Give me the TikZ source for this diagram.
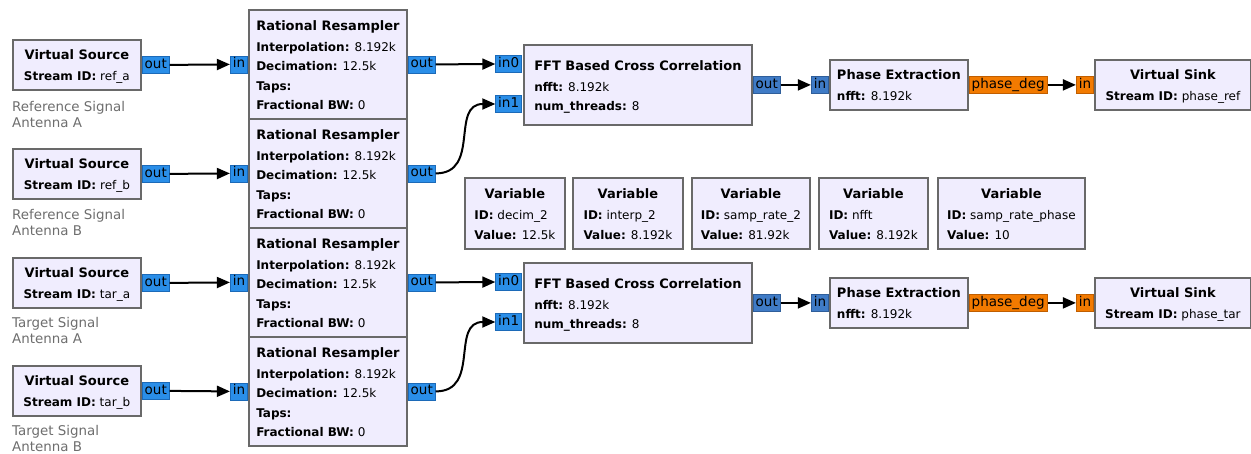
\documentclass[tikz,border=0pt]{standalone}
\usepackage{fontspec}
\setmainfont{DejaVu Sans}
\usetikzlibrary{arrows.meta}
\definecolor{blockfill}{RGB}{240,237,254}
\definecolor{blockline}{RGB}{105,105,105}
\definecolor{portblue}{HTML}{2A8EE8}
\definecolor{portblueline}{HTML}{1C6AB8}
\definecolor{portdark}{HTML}{3F7BC6}
\definecolor{portdarkline}{HTML}{2F5E9A}
\definecolor{portorange}{HTML}{F27A00}
\definecolor{portorangeline}{HTML}{C05E00}
\definecolor{commentgrey}{HTML}{6E6E6E}
\newcommand\blktext[2]{\begin{tabular}{@{}l@{}}\multicolumn{1}{@{}c@{}}{\rule{0pt}{16.7pt}\fontsize{13}{19.3}\selectfont\bfseries #1}\\[1.7pt]#2\end{tabular}}
\newcommand\pk[1]{\textbf{#1}}
\tikzset{
  blk/.style={draw=blockline, line width=1.8pt, fill=blockfill, rectangle, inner sep=0pt, anchor=north west, font=\fontsize{12}{19.3}\selectfont},
  portbase/.style={rectangle, line width=0.8pt, inner xsep=2.5pt, inner ysep=0pt, minimum height=17pt, text height=10pt, text depth=3pt, font=\fontsize{13.5}{13.5}\selectfont},
  pblue/.style={portbase, draw=portblueline, fill=portblue},
  pdark/.style={portbase, draw=portdarkline, fill=portdark},
  porange/.style={portbase, draw=portorangeline, fill=portorange},
  conn/.style={line width=2pt, -{Triangle[length=13pt,width=11pt]}},
  cmt/.style={anchor=base west, align=left, text=commentgrey, inner sep=0pt, font=\fontsize{13.4}{16}\selectfont}
}
\begin{document}
\begin{tikzpicture}[x=1pt,y=-1pt]
\useasboundingbox[fill=white] (0,0) rectangle (1251,453);

% Virtual sources
\node[blk, minimum width=128, minimum height=50] (srcA) at (12,39) {\blktext{Virtual Source}{\pk{Stream ID:} ref\_a}};
\node[blk, minimum width=128, minimum height=50] (srcB) at (12,148) {\blktext{Virtual Source}{\pk{Stream ID:} ref\_b}};
\node[blk, minimum width=128, minimum height=50] (srcC) at (12,257) {\blktext{Virtual Source}{\pk{Stream ID:} tar\_a}};
\node[blk, minimum width=128, minimum height=50] (srcD) at (12,365) {\blktext{Virtual Source}{\pk{Stream ID:} tar\_b}};

% Comments (anchor = baseline of last line)
\node[cmt] (cmA) at (12,127) {Reference Signal\\Antenna A};
\node[cmt] (cmB) at (12,235) {Reference Signal\\Antenna B};
\node[cmt] (cmC) at (12,343) {Target Signal\\Antenna A};
\node[cmt] (cmD) at (12,451) {Target Signal\\Antenna B};

% Rational resamplers
\foreach \n/\y in {resA/9,resB/118,resC/227,resD/336}{
  \node[blk, minimum width=158, minimum height=109] (\n) at (248,\y) {\blktext{Rational Resampler}{\pk{Interpolation:} 8.192k\\\pk{Decimation:} 12.5k\\\pk{Taps:}\\\pk{Fractional BW:} 0}};
}

% FFT blocks
\node[blk, minimum width=228, minimum height=80] (fftA) at (523,44) {\blktext{FFT Based Cross Correlation}{\pk{nfft:} 8.192k\\\pk{num\_threads:} 8}};
\node[blk, minimum width=228, minimum height=80] (fftB) at (523,262) {\blktext{FFT Based Cross Correlation}{\pk{nfft:} 8.192k\\\pk{num\_threads:} 8}};

% Phase extraction
\node[blk, minimum width=138, minimum height=50] (phA) at (829,59) {\blktext{Phase Extraction}{\pk{nfft:} 8.192k}};
\node[blk, minimum width=138, minimum height=50] (phB) at (829,277) {\blktext{Phase Extraction}{\pk{nfft:} 8.192k}};

% Virtual sinks
\node[blk, minimum width=156, minimum height=50] (snkA) at (1094,59) {\blktext{Virtual Sink}{\pk{Stream ID:} phase\_ref}};
\node[blk, minimum width=156, minimum height=50] (snkB) at (1094,277) {\blktext{Virtual Sink}{\pk{Stream ID:} phase\_tar}};

% Variables
\node[blk, minimum width=100, minimum height=71] (v1) at (464,177) {\blktext{Variable}{\pk{ID:} decim\_2\\\pk{Value:} 12.5k}};
\node[blk, minimum width=110, minimum height=71] (v2) at (572,177) {\blktext{Variable}{\pk{ID:} interp\_2\\\pk{Value:} 8.192k}};
\node[blk, minimum width=118, minimum height=71] (v3) at (691,177) {\blktext{Variable}{\pk{ID:} samp\_rate\_2\\\pk{Value:} 81.92k}};
\node[blk, minimum width=109, minimum height=71] (v4) at (818,177) {\blktext{Variable}{\pk{ID:} nfft\\\pk{Value:} 8.192k}};
\node[blk, minimum width=147, minimum height=71] (v5) at (937,177) {\blktext{Variable}{\pk{ID:} samp\_rate\_phase\\\pk{Value:} 10}};

% Ports: sources
\foreach \s in {srcA,srcB,srcC,srcD}{
  \node[pblue, anchor=west] (\s-o) at (\s.east) {out};
}
% Ports: resamplers
\foreach \r in {resA,resB,resC,resD}{
  \node[pblue, anchor=east] (\r-i) at (\r.west) {in};
  \node[pblue, anchor=west] (\r-o) at (\r.east) {out};
}
% Ports: FFT
\node[pblue, anchor=east] (fftA-i0) at (522,64) {in0};
\node[pblue, anchor=east] (fftA-i1) at (522,104) {in1};
\node[pdark, anchor=west] (fftA-o) at (fftA.east) {out};
\node[pblue, anchor=east] (fftB-i0) at (522,282) {in0};
\node[pblue, anchor=east] (fftB-i1) at (522,322) {in1};
\node[pdark, anchor=west] (fftB-o) at (fftB.east) {out};
% Ports: phase extraction
\node[pdark, anchor=east] (phA-i) at (phA.west) {in};
\node[porange, anchor=west] (phA-o) at (phA.east) {phase\_deg};
\node[pdark, anchor=east] (phB-i) at (phB.west) {in};
\node[porange, anchor=west] (phB-o) at (phB.east) {phase\_deg};
% Ports: sinks
\node[porange, anchor=east] (snkA-i) at (snkA.west) {in};
\node[porange, anchor=east] (snkB-i) at (snkB.west) {in};

% Connections
\foreach \s/\r in {srcA/resA,srcB/resB,srcC/resC,srcD/resD}{
  \draw[conn] (\s-o.east) -- (\r-i.west);
}
\draw[conn] (resA-o.east) -- (fftA-i0.west);
\draw[conn] (resB-o.east) .. controls +(45,0) and +(-45,0) .. (fftA-i1.west);
\draw[conn] (resC-o.east) -- (fftB-i0.west);
\draw[conn] (resD-o.east) .. controls +(45,0) and +(-45,0) .. (fftB-i1.west);
\draw[conn] (fftA-o.east) -- (phA-i.west);
\draw[conn] (fftB-o.east) -- (phB-i.west);
\draw[conn] (phA-o.east) -- (snkA-i.west);
\draw[conn] (phB-o.east) -- (snkB-i.west);
\end{tikzpicture}
\end{document}
